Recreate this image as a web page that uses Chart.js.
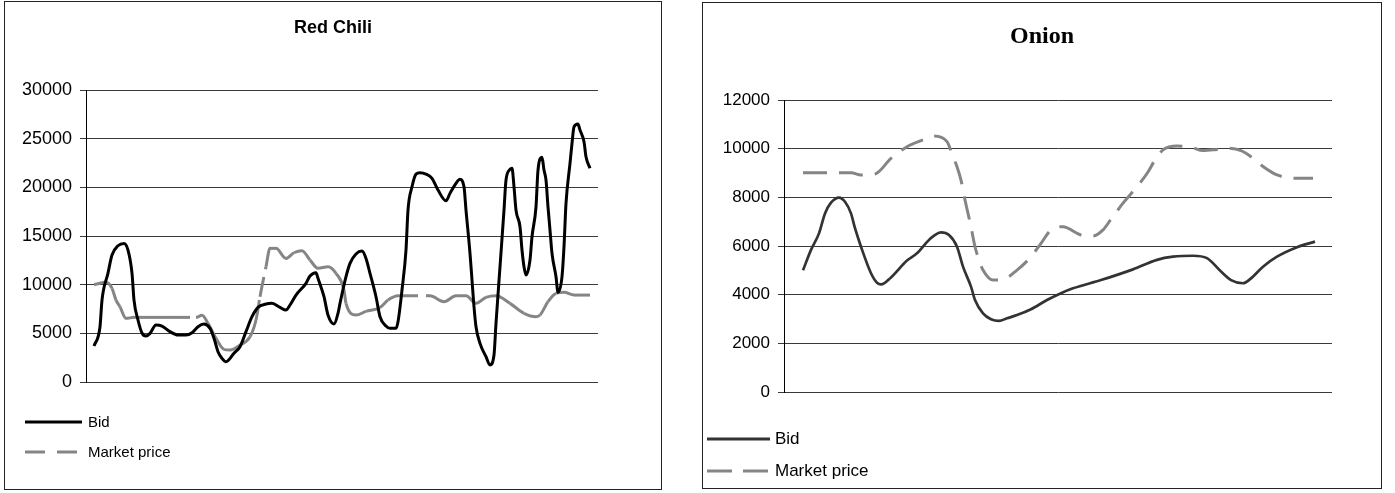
<!DOCTYPE html>
<html>
<head>
<meta charset="utf-8">
<script src="https://cdn.jsdelivr.net/npm/chart.js@4"></script>
<style>
  html, body { margin: 0; padding: 0; background: #fff; }
  body { width: 1395px; height: 493px; position: relative; overflow: hidden; font-family: "Liberation Sans", Arial, sans-serif; }
  .box { position: absolute; box-sizing: border-box; border: 1px solid #222; background: #fff; }
  .box canvas { position: absolute; left: 0; top: 0; }
  .leg { position: absolute; white-space: nowrap; color: #000; }
  svg.legsvg { position: absolute; left: 0; top: 0; overflow: visible; }
</style>
</head>
<body>
<div class="box" id="boxL" style="left:4px;top:1px;width:658px;height:489px;"><canvas id="chili" width="656" height="487"></canvas></div>
<div class="box" id="boxR" style="left:702px;top:2px;width:680px;height:487px;"><canvas id="onion" width="678" height="485"></canvas></div>
<svg class="legsvg" width="1395" height="493" id="legsvg"></svg>
<div id="legtext"></div>
<script>
// ---------------- DATA ----------------
const seriesNames = ['Bid', 'Market price'];

// Red Chili: observation day index and price
const chiliBidDay = [0,3,4,7,9,12,15,17,19,20,22,24,26,28,31,34,38,42,46,49,52,55,58,60,62,64,66,70,73,76,79,82,86,89,93,96,98,101,106,108,111,112,115,117,120,122,123,126,128,131,134,136,138,141,143,146,148,151,152,154,156,157,159,161,163,166,169,172,176,178,181,183,185,186,188,189,190,191,193,196,198,200,201,203,205,206,208,209,210,211,213,214,215,216,218,219,221,222,224,225,226,227,228,229,231,232,234,235,236,238,239,240,242,243,245,246,248];
const chiliBid = [3700,5680,8420,11190,13040,14000,14240,13560,11190,8420,6370,5030,4720,5000,5850,5750,5170,4830,4830,5060,5680,5960,5510,4500,3110,2430,2090,2950,3630,5170,6710,7670,8010,8080,7670,7390,7910,8930,10140,10890,11230,10650,8760,6880,5960,7060,8080,10820,12190,13150,13450,12700,11160,8760,6710,5750,5510,5510,6190,9450,13560,17660,20060,21360,21500,21360,20920,19720,18620,19380,20410,20820,20060,17660,13220,10480,7730,5680,3970,2600,1750,2770,6030,11840,17660,20750,21840,21950,20060,17660,15950,13560,11840,10990,12530,14920,18000,21770,23080,21770,20750,18000,15610,13220,10820,9210,10820,13900,18350,22460,24510,26220,26500,25880,24680,23140,21950];
const chiliMktDay = [0,6,9,11,13,16,20,28,38,51,54,57,61,65,68,73,78,81,83,86,88,91,96,100,104,108,112,117,121,125,126,131,136,143,147,152,168,175,181,186,191,196,201,208,215,221,223,227,231,235,240,248];
const chiliMkt = [10000,10240,9620,8420,7730,6540,6640,6640,6640,6640,6850,6030,4490,3360,3290,3800,4650,6370,8760,11840,13730,13730,12700,13280,13480,12530,11680,11840,11160,9450,8080,6880,7250,7650,8420,8860,8860,8250,8860,8860,8080,8700,8860,8080,7060,6710,6880,8250,9110,9210,8930,8930];
const chiliTicks = [0,5000,10000,15000,20000,25000,30000];

// Onion
const onionBidDay = [0,4,8,11,14,18,21,24,26,29,34,37,39,44,52,57,63,69,73,77,80,84,86,90,94,98,102,107,114,122,129,135,149,165,177,185,195,202,209,214,220,224,230,237,247,256];
const onionBid = [5000,5840,6520,7340,7780,7990,7820,7340,6730,5970,4880,4490,4420,4710,5400,5700,6250,6560,6450,5970,5150,4330,3780,3230,2990,2920,3030,3160,3400,3780,4060,4260,4600,5040,5430,5560,5600,5500,4950,4600,4470,4670,5150,5560,5950,6180];
const onionMktDay = [0,24,29,36,44,52,60,65,72,75,77,79,81,84,86,88,90,95,99,107,114,119,124,130,139,145,150,154,160,167,172,176,180,187,194,200,207,212,219,224,229,237,247,255];
const onionMkt = [9010,9010,8920,8960,9600,10080,10360,10520,10290,9670,9260,8710,7890,6790,5970,5430,5010,4600,4600,5010,5560,6110,6660,6790,6450,6410,6660,7100,7760,8440,8980,9530,9950,10110,10060,9920,9970,10020,9920,9670,9330,8920,8780,8780];
const onionTicks = [0,2000,4000,6000,8000,10000,12000];

// ---------------- BUILD ----------------
function pts(days, vals) {
  if (days.length !== vals.length) throw new Error('length mismatch ' + days.length + ' vs ' + vals.length);
  return days.map((d, i) => ({ x: d, y: vals[i] }));
}

function makeChart(id, cfg) {
  return new Chart(document.getElementById(id), {
    type: 'line',
    data: {
      datasets: [
        {
          label: seriesNames[0],
          data: pts(cfg.bidDay, cfg.bid),
          borderColor: cfg.bidColor,
          borderWidth: cfg.bidWidth,
          pointRadius: 0,
          cubicInterpolationMode: 'monotone',
          borderJoinStyle: 'round',
          fill: false
        },
        {
          label: seriesNames[1],
          data: pts(cfg.mktDay, cfg.mkt),
          borderColor: '#858585',
          borderWidth: 3,
          borderDash: cfg.dash,
          pointRadius: 0,
          cubicInterpolationMode: 'monotone',
          fill: false,
          segment: cfg.restartDash ? { borderDashOffset: c => (c.p0DataIndex % 2 ? 0.01 : 0) } : undefined
        }
      ]
    },
    options: {
      responsive: false,
      animation: false,
      devicePixelRatio: 1,
      layout: { padding: { left: 0, top: 0, right: 0, bottom: cfg.padBottom } },
      plugins: {
        legend: { display: false },
        tooltip: { enabled: false },
        title: {
          display: true,
          text: cfg.title,
          color: '#000',
          font: cfg.titleFont,
          padding: cfg.titlePad
        }
      },
      scales: {
        x: { type: 'linear', min: cfg.xMin, max: cfg.xMax, display: false },
        y: {
          min: cfg.ticks[0],
          max: cfg.ticks[cfg.ticks.length - 1],
          afterBuildTicks: s => { s.ticks = cfg.ticks.map(v => ({ value: v })); },
          afterFit: s => { s.width = 81; },
          ticks: {
            color: '#000',
            padding: 8,
            font: { family: '"Liberation Sans", Arial, sans-serif', size: cfg.tickSize },
            callback: v => String(v)
          },
          grid: { color: '#3a3a3a', lineWidth: 1, tickLength: 6, drawTicks: true },
          border: { display: true, color: '#000', width: 1 }
        },
        // empty right-hand margin box (keeps the title centred on the whole chart)
        yRight: {
          position: 'right',
          display: true,
          ticks: { display: false },
          grid: { display: false, drawTicks: false },
          border: { display: false },
          afterFit: s => { s.width = cfg.padRight; }
        }
      }
    }
  });
}

const chili = makeChart('chili', {
  title: 'Red Chili',
  titleFont: { family: '"Liberation Sans", Arial, sans-serif', size: 18, weight: 'bold', lineHeight: 1.2 },
  titlePad: { top: 15.2, bottom: 51.2 },
  bidDay: chiliBidDay, bid: chiliBid, mktDay: chiliMktDay, mkt: chiliMkt,
  bidColor: '#000', bidWidth: 3, dash: [20, 8], restartDash: true,
  ticks: chiliTicks, tickSize: 18,
  xMin: -4, xMax: 252, padRight: 63, padBottom: 107
});

const onion = makeChart('onion', {
  title: 'Onion',
  titleFont: { family: '"Liberation Serif", "Times New Roman", serif', size: 24, weight: 'bold', lineHeight: 1.2 },
  titlePad: { top: 19.3, bottom: 48.9 },
  bidDay: onionBidDay, bid: onionBid, mktDay: onionMktDay, mkt: onionMkt,
  bidColor: '#333', bidWidth: 2.7, dash: [24, 12], restartDash: false,
  ticks: onionTicks, tickSize: 17,
  xMin: -9.5, xMax: 264.5, padRight: 49, padBottom: 96
});

// ---------------- LEGENDS (HTML, from datasets) ----------------
const svg = document.getElementById('legsvg');
const legText = document.getElementById('legtext');
function addLegend(chart, spec) {
  chart.data.datasets.forEach((ds, i) => {
    const y = spec.rows[i];
    const ln = document.createElementNS('http://www.w3.org/2000/svg', 'line');
    ln.setAttribute('x1', spec.x1); ln.setAttribute('x2', spec.x2);
    ln.setAttribute('y1', y); ln.setAttribute('y2', y);
    ln.setAttribute('stroke', ds.borderColor);
    ln.setAttribute('stroke-width', 3);
    if (ds.borderDash) ln.setAttribute('stroke-dasharray', spec.dash);
    svg.appendChild(ln);
    const t = document.createElement('div');
    t.className = 'leg';
    t.textContent = ds.label;
    t.style.left = spec.tx + 'px';
    t.style.top = (y - 10) + 'px';
    t.style.fontSize = spec.size + 'px';
    t.style.lineHeight = '20px';
    legText.appendChild(t);
  });
}
addLegend(chili, { x1: 25, x2: 82, rows: [422, 452], tx: 88, size: 15, dash: '20 12' });
addLegend(onion, { x1: 707, x2: 770, rows: [439, 471], tx: 775, size: 17, dash: '25 11' });
</script>
</body>
</html>
